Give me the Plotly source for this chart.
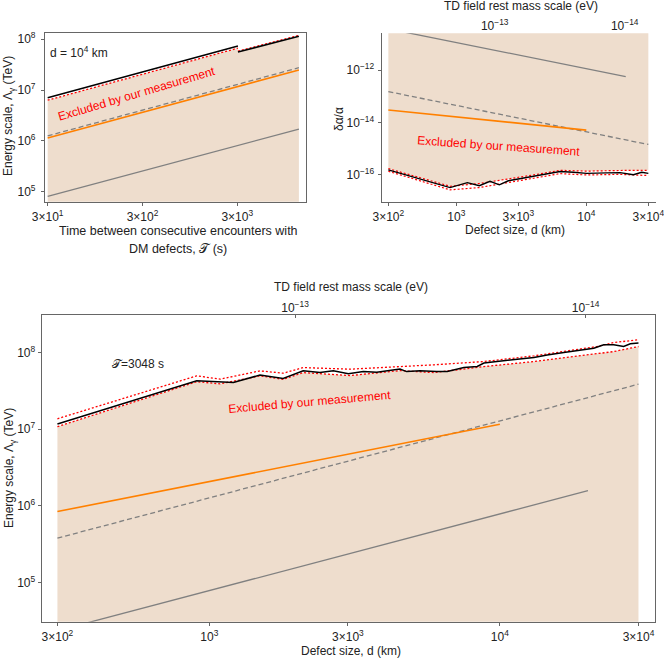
import plotly.graph_objects as go

# ---------------- data ----------------
# Top-left panel: Energy scale vs time between encounters (d = 1e4 km)
T_black1 = [30, 3048]
L_black1 = [7.05e6, 7.4e7]
T_black2 = [3048, 13400]
L_black2 = [5.6e7, 1.15e8]
T_red1 = [30, 3048]
L_red1 = [6.3e6, 6.7e7]
T_red2 = [3048, 13400]
L_red2 = [5.85e7, 1.2e8]
T_lines = [30, 13400]
L_orange_T = [1.13e6, 2.48e7]
L_dashed_T = [1.25e6, 2.75e7]
L_gray_T = [8.0e4, 1.7e6]

# Top-right panel: delta alpha / alpha vs defect size
d_da = [300, 895, 1216, 1503, 1816, 2143, 2512, 2917, 3483, 4159, 4955, 6281,
        7943, 10070, 14350, 18160, 23010, 26670, 30000]
da_black = [1.55e-16, 3.3e-17, 5.1e-17, 3.9e-17, 5.75e-17, 4.2e-17, 6.0e-17,
            6.9e-17, 8.1e-17, 9.1e-17, 1.10e-16, 1.35e-16, 1.26e-16, 1.15e-16,
            1.20e-16, 1.23e-16, 1.02e-16, 1.26e-16, 1.15e-16]
d_da_red = [300, 895, 1500, 2500, 4160, 6280, 10070, 18160, 30000]
da_red_up = [1.74e-16, 3.7e-17, 4.7e-17, 6.8e-17, 1.05e-16, 1.5e-16, 1.4e-16, 1.48e-16, 1.5e-16]
da_red_lo = [1.38e-16, 2.7e-17, 3.3e-17, 5.0e-17, 7.6e-17, 1.12e-16, 1.0e-16, 1.05e-16, 9.5e-17]
d_orange = [300, 10000]
da_orange = [3.0e-14, 5.1e-15]
d_dashed = [300, 30000]
da_dashed = [1.5e-13, 1.45e-15]
d_gray = [300, 20100]
da_gray = [3.7e-11, 5.6e-13]

# Bottom panel: Energy scale vs defect size (T = 3048 s)
d_L = [300, 905, 1210, 1494, 1795, 2104, 2403, 2672, 3010, 3388, 3768, 4078,
       4531, 4777, 5310, 6057, 6590, 7520, 8357, 8816, 10060, 11480, 13100,
       14550, 16600, 19450, 21050, 22780, 24650, 26670, 28120, 30000]
L_black = [1.17e7, 4.3e7, 4.06e7, 5.1e7, 4.6e7, 5.8e7, 5.5e7, 5.8e7, 5.3e7,
           5.65e7, 5.55e7, 5.8e7, 6.1e7, 5.65e7, 5.8e7, 5.65e7, 5.65e7, 6.4e7,
           6.6e7, 7.3e7, 7.8e7, 8.2e7, 8.6e7, 9.3e7, 1.0e8, 1.08e8, 1.14e8,
           1.26e8, 1.26e8, 1.20e8, 1.30e8, 1.33e8]
d_L_red = [300, 905, 1089, 1494, 1795, 2104, 3048, 4531, 5930, 8810, 13100,
           21600, 24650, 30000]
L_red_up = [1.37e7, 4.97e7, 4.5e7, 5.77e7, 5.38e7, 6.37e7, 6.07e7, 6.56e7,
            6.92e7, 7.64e7, 9.06e7, 1.2e8, 1.35e8, 1.47e8]
L_red_lo = [1.08e7, 4.17e7, 3.91e7, 4.97e7, 4.47e7, 5.48e7, 5.01e7, 5.82e7,
            5.48e7, 6.56e7, 7.64e7, 9.53e7, 1.03e8, 1.2e8]
d_orange_L = [300, 10000]
L_orange = [8.45e5, 1.16e7]
d_dashed_L = [300, 30000]
L_dashed = [3.8e5, 3.87e7]
d_gray_L = [300, 20100]
L_gray = [2.36e4, 1.58e6]

# tick labels
tl_T_vals = [30, 300, 3000]
tl_T_text = ["3×10<sup>1</sup>", "3×10<sup>2</sup>", "3×10<sup>3</sup>"]
tl_d_vals = [300, 1000, 3000, 10000, 30000]
tl_d_text = ["3×10<sup>2</sup>", "10<sup>3</sup>", "3×10<sup>3</sup>", "10<sup>4</sup>", "3×10<sup>4</sup>"]
tl_L_vals = [1e5, 1e6, 1e7, 1e8]
tl_L_text = ["10<sup>5</sup>", "10<sup>6</sup>", "10<sup>7</sup>", "10<sup>8</sup>"]
tl_da_vals = [1e-16, 1e-14, 1e-12]
tl_da_text = ["10<sup>−16</sup>", "10<sup>−14</sup>", "10<sup>−12</sup>"]
tl_m_vals = [1e-13, 1e-14]
tl_m_text = ["10<sup>−13</sup>", "10<sup>−14</sup>"]
HBARC_EV_KM = 1.973e-10  # mass scale (eV) = hbar*c / d

# ---------------- styling ----------------
W, H = 664, 658
FILL = "rgb(238,221,205)"
ORANGE = "rgb(255,128,0)"
GRAY = "rgb(128,128,128)"
RED = "rgb(255,0,0)"
FRAME = "#666666"
FONT = "Liberation Sans"


def fx(px):
    return px / W


def fy(py):
    return 1 - py / H


fig = go.Figure()


def line(x, y, xa, ya, color, width=1.5, dash=None):
    fig.add_trace(go.Scatter(x=x, y=y, xaxis=xa, yaxis=ya, mode="lines",
                             line=dict(color=color, width=width, dash=dash),
                             hoverinfo="skip", showlegend=False))


def poly(x, y, xa, ya):
    fig.add_trace(go.Scatter(x=x, y=y, xaxis=xa, yaxis=ya, mode="lines",
                             fill="toself", fillcolor=FILL, line=dict(width=0),
                             hoverinfo="skip", showlegend=False))


# ---- panel 1 ----
poly(T_red1 + T_black2 + [T_black2[-1], T_red1[0]],
     L_red1 + L_black2 + [1e4, 1e4], "x", "y")
line(T_lines, L_gray_T, "x", "y", GRAY, 1.3)
line(T_lines, L_dashed_T, "x", "y", GRAY, 1.3, "5px,3px")
line(T_lines, L_orange_T, "x", "y", ORANGE, 1.6)
line(T_red1, L_red1, "x", "y", RED, 1.3, "2px,2px")
line(T_red2, L_red2, "x", "y", RED, 1.3, "2px,2px")
line(T_black1, L_black1, "x", "y", "black", 1.5)
line(T_black2, L_black2, "x", "y", "black", 1.5)

# ---- panel 2 ----
poly(d_da_red + [d_da_red[-1], d_da_red[0]], da_red_up + [1e-9, 1e-9], "x2", "y2")
line(d_gray, da_gray, "x2", "y2", GRAY, 1.3)
line(d_dashed, da_dashed, "x2", "y2", GRAY, 1.3, "5px,3px")
line(d_orange, da_orange, "x2", "y2", ORANGE, 1.6)
line(d_da_red, da_red_up, "x2", "y2", RED, 1.2, "2px,2px")
line(d_da_red, da_red_lo, "x2", "y2", RED, 1.2, "2px,2px")
line(d_da, da_black, "x2", "y2", "black", 1.4)
fig.add_trace(go.Scatter(x=[HBARC_EV_KM / d for d in d_gray], y=da_gray, xaxis="x3", yaxis="y2",
                         mode="markers", marker=dict(opacity=0), hoverinfo="skip", showlegend=False))

# ---- panel 3 ----
poly(d_L_red + [d_L_red[-1], d_L_red[0]], L_red_lo + [1e4, 1e4], "x4", "y3")
line(d_gray_L, L_gray, "x4", "y3", GRAY, 1.3)
line(d_dashed_L, L_dashed, "x4", "y3", GRAY, 1.3, "5px,3px")
line(d_orange_L, L_orange, "x4", "y3", ORANGE, 1.6)
line(d_L_red, L_red_up, "x4", "y3", RED, 1.3, "2px,2px")
line(d_L_red, L_red_lo, "x4", "y3", RED, 1.3, "2px,2px")
line(d_L, L_black, "x4", "y3", "black", 1.5)
fig.add_trace(go.Scatter(x=[HBARC_EV_KM / d for d in d_gray_L], y=L_gray, xaxis="x5", yaxis="y3",
                         mode="markers", marker=dict(opacity=0), hoverinfo="skip", showlegend=False))

tickfont = dict(family=FONT, size=12, color="#222")
common = dict(type="log", showgrid=False, zeroline=False, tickmode="array",
              tickfont=tickfont, ticks="outside", ticklen=3, tickcolor=FRAME,
              linecolor=FRAME, linewidth=1.2, automargin=False, ticklabeloverflow="allow")

fig.update_layout(
    template="none",
    width=W, height=H, margin=dict(l=0, r=0, t=0, b=0, pad=0), autosize=False,
    paper_bgcolor="white", plot_bgcolor="white", showlegend=False,
    font=dict(family=FONT, size=12, color="#222"),
    xaxis=dict(**common, domain=[fx(45), fx(306)], range=[1.449, 4.202], anchor="y",
               tickvals=tl_T_vals, ticktext=tl_T_text, showline=True, mirror=True,
               ticklabelstandoff=1),
    yaxis=dict(**common, domain=[fy(201.7), fy(33.3)], range=[4.80, 8.118], anchor="x",
               tickvals=tl_L_vals, ticktext=tl_L_text, showline=True, mirror=True,
               ticklabelstandoff=3),
    xaxis2=dict(**common, domain=[fx(381.7), fx(656)], range=[2.426, 4.536], anchor="y2",
                tickvals=tl_d_vals, ticktext=tl_d_text, showline=True, ticklabelstandoff=1),
    yaxis2=dict(**common, domain=[fy(201.7), fy(33.3)], range=[-17.02, -10.6], anchor="x2",
                tickvals=tl_da_vals, ticktext=tl_da_text, showline=True, ticklabelstandoff=1),
    xaxis3=dict(**{k: v for k, v in common.items() if k not in ("ticks",)},
                overlaying="x2", side="top", anchor="y2",
                range=[-9.705 - 2.426, -9.705 - 4.536], tickvals=tl_m_vals, ticktext=tl_m_text,
                showline=False, ticks="", ticklabelstandoff=0),
    xaxis4=dict(**common, domain=[fx(41.7), fx(655.3)], range=[2.423, 4.535], anchor="y3",
                tickvals=tl_d_vals, ticktext=tl_d_text, showline=True, mirror=True,
                ticklabelstandoff=1),
    yaxis3=dict(**common, domain=[fy(621.7), fy(315)], range=[4.49, 8.49], anchor="x4",
                tickvals=tl_L_vals, ticktext=tl_L_text, showline=True, mirror=True,
                ticklabelstandoff=0),
    xaxis5=dict(**{k: v for k, v in common.items() if k not in ("ticks",)},
                ticks="inside", overlaying="x4", side="top", anchor="y3",
                range=[-9.705 - 2.423, -9.705 - 4.535], tickvals=tl_m_vals, ticktext=tl_m_text,
                showline=False, ticklabelstandoff=0),
)


def ann(text, x, y, size=12, color="#222", angle=0, xanchor="center", yanchor="middle"):
    fig.add_annotation(text=text, x=fx(x), y=fy(y), xref="paper", yref="paper",
                       showarrow=False, textangle=angle, xanchor=xanchor, yanchor=yanchor,
                       font=dict(family=FONT, size=size, color=color))


# axis titles
ann("Energy scale, Λ<sub>γ</sub> (TeV)", 9, 116, angle=-90)
ann("Time between consecutive encounters with", 178, 231, size=12.5)
ann("DM defects, 𝒯 (s)", 178, 249, size=12.5)
ann("δα/α", 339, 119, angle=-90)
ann("Defect size, d (km)", 515, 230)
ann("TD field rest mass scale (eV)", 521, 6)
ann("TD field rest mass scale (eV)", 351, 287)
ann("Energy scale, Λ<sub>γ</sub> (TeV)", 10, 468, angle=-90)
ann("Defect size, d (km)", 351, 651)

# in-plot texts
ann("d = 10<sup>4</sup> km", 48, 52, xanchor="left")
ann("Excluded by our measurement", 136, 94, color=RED, angle=-16.5)
ann("Excluded by our measurement", 498, 146, color=RED, angle=4)
ann("𝒯=3048 s", 110, 364, xanchor="left")
ann("Excluded by our measurement", 309, 402, color=RED, angle=-5)

fig.write_html("out.html", config={"displayModeBar": False, "responsive": False},
               post_script="document.body.style.margin='0px';document.body.style.overflow='hidden';")
